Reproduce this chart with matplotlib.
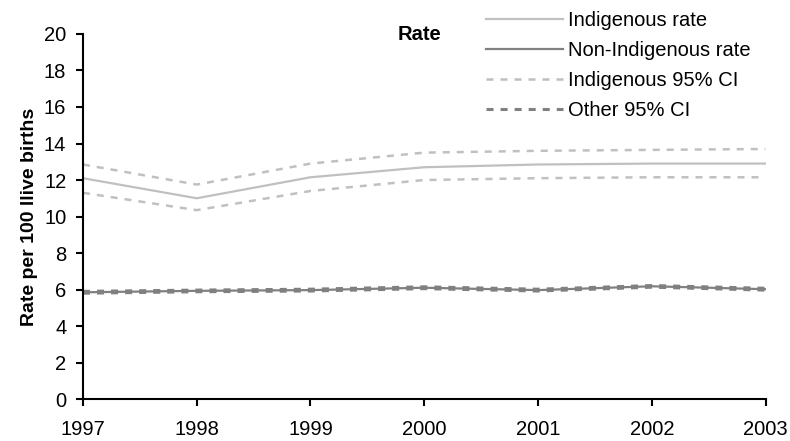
import matplotlib
matplotlib.use('Agg')
import matplotlib.pyplot as plt

plt.rcParams['font.family'] = ['Liberation Sans', 'DejaVu Sans']

# data
years = [1997, 1998, 1999, 2000, 2001, 2002, 2003]
indig_rate = [12.1, 11.0, 12.15, 12.7, 12.85, 12.9, 12.9]
indig_upper = [12.85, 11.75, 12.9, 13.5, 13.6, 13.65, 13.7]
indig_lower = [11.3, 10.35, 11.4, 12.0, 12.1, 12.15, 12.15]
nonindig_rate = [5.85, 5.93, 5.97, 6.1, 5.97, 6.18, 6.02]
other_upper = [5.9, 5.97, 6.02, 6.15, 6.02, 6.22, 6.07]
other_lower = [5.8, 5.88, 5.92, 6.05, 5.92, 6.13, 5.97]

light = '#c0c0c0'
dark = '#808080'

fig = plt.figure(figsize=(7.9, 4.41), dpi=100)
ax = fig.add_axes([0.105, 0.095, 0.864, 0.828])

l1, = ax.plot(years, indig_rate, color=light, lw=1.6, label='Indigenous rate')
l2, = ax.plot(years, nonindig_rate, color=dark, lw=1.6, label='Non-Indigenous rate')
l3, = ax.plot(years, indig_upper, color=light, lw=1.8, dashes=(2.8, 2.8),
              label='Indigenous 95% CI')
ax.plot(years, indig_lower, color=light, lw=1.8, dashes=(2.8, 2.8))
l4, = ax.plot(years, other_upper, color=dark, lw=2.2, dashes=(2.3, 2.3),
              label='Other 95% CI')
ax.plot(years, other_lower, color=dark, lw=2.2, dashes=(2.3, 2.3))

ax.set_xlim(1997, 2003)
ax.set_ylim(0, 20)
ax.set_xticks(years)
ax.set_yticks(range(0, 21, 2))
ax.tick_params(labelsize=14.5, length=5, width=1.5, direction='out')
ax.tick_params(axis='x', pad=10)
ax.tick_params(axis='y', pad=7)
for s in ['top', 'right']:
    ax.spines[s].set_visible(False)
for s in ['left', 'bottom']:
    ax.spines[s].set_linewidth(1.5)
ax.set_ylabel('Rate per 100 llive births', fontsize=14, fontweight='bold',
              labelpad=4)

fig.text(419 / 790, 1 - 35 / 441, 'Rate', fontsize=14.5, fontweight='bold',
         ha='center', va='center')

fig.legend(handles=[l1, l2, l3, l4], loc='upper left',
           bbox_to_anchor=(480 / 790, 1 - 5 / 441), frameon=False,
           fontsize=14.5, handlelength=3.8, handletextpad=0.25,
           labelspacing=0.55, borderpad=0.3, borderaxespad=0)

fig.savefig('out.png', dpi=100)
